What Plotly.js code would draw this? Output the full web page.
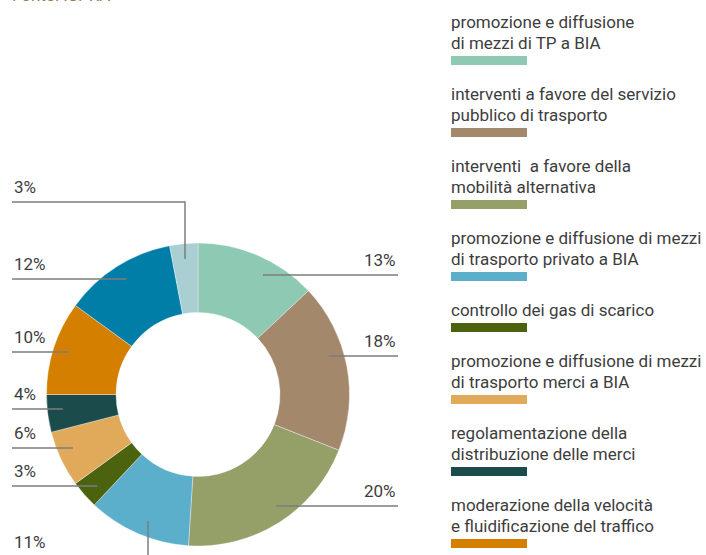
<!DOCTYPE html>
<html><head><meta charset="utf-8">
<script src="https://cdn.plot.ly/plotly-3.0.1.min.js"></script>
<style>html,body{margin:0;padding:0;background:#fff}</style>
</head><body><div id="chart" style="width:706px;height:555px"></div>
<script>
// ---- data ----
const categories = [
  ["promozione e diffusione", "di mezzi di TP a BIA"],
  ["interventi a favore del servizio", "pubblico di trasporto"],
  ["interventi  a favore della", "mobilità alternativa"],
  ["promozione e diffusione di mezzi", "di trasporto privato a BIA"],
  ["controllo dei gas di scarico"],
  ["promozione e diffusione di mezzi", "di trasporto merci a BIA"],
  ["regolamentazione della", "distribuzione delle merci"],
  ["moderazione della velocità", "e fluidificazione del traffico"],
  ["altri interventi"],
  ["altre misure"]
];
const values = [13, 18, 20, 11, 3, 6, 4, 10, 12, 3];
const valueLabels = values.map(v => v + "%");
const colors = ["#8ecab3", "#a3886c", "#959f68", "#5bafcb", "#4b620e",
                "#e0aa5a", "#1c4b4b", "#d57f00", "#007ea8", "#a9cfd2"];
const legendCount = 8; // items visible in the picture
const sourceText = "Fonte: ISPRA";

// ---- layout geometry (pixels) ----
const W = 706, H = 555;
const cx = 198, cy = 394.5, rOuter = 151.5, rInner = 82, rLead = 136;
const px = x => x / W;
const py = y => 1 - y / H;
// leader-line placement per slice: side, y of horizontal segment, or x of vertical segment
const leaders = [
  {side: "right", y: 275}, {side: "right", y: 356}, {side: "right", y: 506},
  {side: "down", x: 148, y: 557},
  {side: "left", y: 486}, {side: "left", y: 448}, {side: "left", y: 409},
  {side: "left", y: 352}, {side: "left", y: 279},
  {side: "up", x: 185, y: 202}
];
const leftX = 12, rightX = 398;
const textColor = "#3d3d3d", lineColor = "#7d7d7d";
const fontFam = "Roboto, 'Open Sans', sans-serif";

const shapes = [], annotations = [];
leaders.forEach((L, i) => {
  let pts, labelX, labelY, anchor;
  if (L.side === "right" || L.side === "left") {
    const dy = L.y - cy;
    const dx = Math.sqrt(rLead * rLead - dy * dy) * (L.side === "right" ? 1 : -1);
    const x0 = cx + dx;
    const x1 = L.side === "right" ? rightX : leftX;
    pts = [[x0, L.y], [x1, L.y]];
    labelX = x1; labelY = L.y - 15; anchor = L.side;
  } else {
    const dx = L.x - cx;
    const dy = Math.sqrt(rLead * rLead - dx * dx) * (L.side === "down" ? 1 : -1);
    pts = [[L.x, cy + dy], [L.x, L.y], [leftX, L.y]];
    labelX = leftX; labelY = L.y - 15; anchor = "left";
  }
  shapes.push({
    type: "path", xref: "paper", yref: "paper",
    path: pts.map((p, k) => (k ? "L" : "M") + px(p[0]) + "," + py(p[1])).join(" "),
    line: {color: lineColor, width: 1.5}
  });
  annotations.push({
    xref: "paper", yref: "paper", x: px(labelX), y: py(labelY),
    xanchor: anchor, yanchor: "middle", showarrow: false,
    text: valueLabels[i], font: {family: fontFam, size: 17, color: textColor}
  });
});

// custom legend: text lines then colour bar
let ly = 22;
for (let i = 0; i < legendCount; i++) {
  const lines = categories[i];
  lines.forEach((t, k) => {
    annotations.push({
      xref: "paper", yref: "paper", x: px(449), y: py(ly + 21 * k),
      xanchor: "left", yanchor: "middle", showarrow: false,
      text: t, font: {family: fontFam, size: 17, color: textColor}
    });
  });
  const barTop = ly + 21 * (lines.length - 1) + 13;
  shapes.push({
    type: "rect", xref: "paper", yref: "paper",
    x0: px(451), x1: px(527), y0: py(barTop), y1: py(barTop + 9),
    fillcolor: colors[i], line: {width: 0}
  });
  ly = barTop + 38;
}

annotations.push({
  xref: "paper", yref: "paper", x: px(10), y: py(-5),
  xanchor: "left", yanchor: "middle", showarrow: false,
  text: sourceText, font: {family: fontFam, size: 17, color: "#9c7a5c"}
});

const trace = {
  type: "pie",
  labels: categories.map(c => c.join(" ")),
  values: values,
  hole: rInner / rOuter,
  sort: false,
  direction: "clockwise",
  rotation: 0,
  textinfo: "none",
  marker: {colors: colors, line: {color: "rgba(255,255,255,0.6)", width: 0.6}},
  domain: {x: [px(cx - rOuter), px(cx + rOuter)], y: [py(cy + rOuter), py(cy - rOuter)]},
  showlegend: false
};

Plotly.newPlot("chart", [trace], {
  width: W, height: H,
  margin: {l: 0, r: 0, t: 0, b: 0},
  paper_bgcolor: "#fff",
  shapes: shapes, annotations: annotations,
  showlegend: false
}, {displayModeBar: false, staticPlot: true});
</script></body></html>
